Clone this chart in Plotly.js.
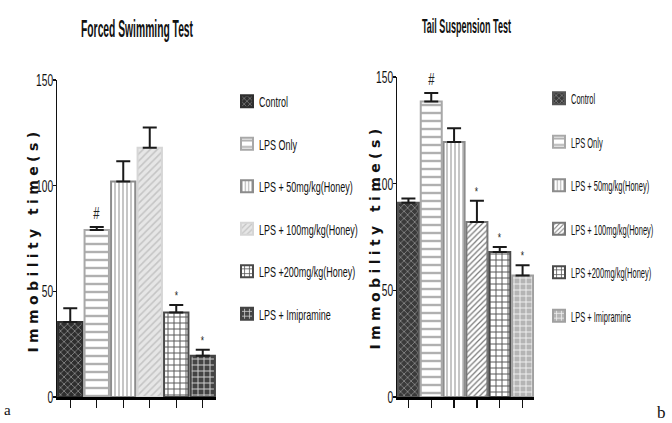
<!DOCTYPE html>
<html>
<head>
<meta charset="utf-8">
<script src="https://cdn.plot.ly/plotly-3.0.1.min.js"></script>
<style>html,body{margin:0;padding:0;background:#fff;}#chart{width:672px;height:423px;}</style>
</head>
<body>
<div id="chart"></div>
<script>
const categories = ["Control", "LPS Only", "LPS + 50mg/kg(Honey)", "LPS + 100mg/kg(Honey)", "LPS +200mg/kg(Honey)", "LPS + Imipramine"];
const fstMeans = [35.5, 79, 102, 118, 40, 19.5];
const fstErr = [6.5, 1.5, 9.5, 9.5, 3.5, 2.8];
const fstMarks = ["", "#", "", "", "*", "*"];
const tstMeans = [91, 138.5, 119.5, 82, 68, 57];
const tstErr = [2, 4, 6.5, 10, 2.3, 4.7];
const tstMarks = ["", "#", "", "*", "*", "*"];
const yTicks = [0, 50, 100, 150];
const panelTitles = ["Forced Swimming Test", "Tail Suspension Test"];
const yTitle = "Immobility time(s)";

const stylesL = [
  {bg: "#2e2e2e", fg: "#8a8a8a", shape: "x", size: 5, line: "#2e2e2e"},
  {bg: "#ffffff", fg: "#b0b0b0", shape: "-", size: 8, line: "#a8a8a8"},
  {bg: "#ffffff", fg: "#a0a0a0", shape: "|", size: 4, line: "#8c8c8c"},
  {bg: "#e6e6e6", fg: "#c4c4c4", shape: "/", size: 5, line: "#d6d6d6"},
  {bg: "#ffffff", fg: "#555555", shape: "+", size: 6, line: "#4a4a4a"},
  {bg: "#444444", fg: "#d0d0d0", shape: "+", size: 6, line: "#444444"}
];
const stylesR = [
  {bg: "#3a3a3a", fg: "#8a8a8a", shape: "x", size: 5, line: "#555555"},
  {bg: "#ffffff", fg: "#b0b0b0", shape: "-", size: 8, line: "#a8a8a8"},
  {bg: "#ffffff", fg: "#a0a0a0", shape: "|", size: 4, line: "#8c8c8c"},
  {bg: "#ffffff", fg: "#777777", shape: "/", size: 4, line: "#777777"},
  {bg: "#ffffff", fg: "#555555", shape: "+", size: 6, line: "#4a4a4a"},
  {bg: "#b4b4b4", fg: "#f0f0f0", shape: "+", size: 6, line: "#a0a0a0"}
];

const FONT = "Liberation Sans, Arial, sans-serif";
const traces = [];
const annotations = [];
function addPanel(means, errs, marks, styles, xa, ya, legendName) {
  means.forEach((m, i) => {
    const s = styles[i];
    traces.push({
      type: "bar", x: [i], y: [m], name: categories[i], width: 0.92,
      xaxis: xa, yaxis: ya, legend: legendName, legendgroup: legendName + i,
      marker: {color: s.bg, line: {color: s.line, width: 2},
        pattern: {shape: s.shape, fgcolor: s.fg, bgcolor: s.bg, size: s.size, solidity: 0.3}},
      error_y: {type: "data", symmetric: false, array: [errs[i]], arrayminus: [0], color: "#1a1a1a", thickness: 2, width: 7},
      hoverinfo: "skip"
    });
    if (marks[i]) {
      annotations.push({xref: xa, yref: ya, x: i, y: m + errs[i], text: marks[i], showarrow: false,
        xanchor: "center", yanchor: "bottom", yshift: marks[i] === "#" ? 3 : 0,
        font: {family: FONT, size: marks[i] === "#" ? 16 : 12, color: "#222"}});
    }
  });
}
addPanel(fstMeans, fstErr, fstMarks, stylesL, "x", "y", "legend");
addPanel(tstMeans, tstErr, tstMarks, stylesR, "x2", "y2", "legend2");

const paperText = (x, y, text, font, extra) => Object.assign({xref: "paper", yref: "paper", x: x / 672, y: 1 - y / 423,
  text: text, showarrow: false, xanchor: "center", yanchor: "middle", font: font}, extra || {});
annotations.push(paperText(137, 29, panelTitles[0], {family: FONT, size: 23, color: "#111", weight: "bold"}));
annotations.push(paperText(466, 26, panelTitles[1], {family: FONT, size: 21, color: "#111", weight: "bold"}));
annotations.push(paperText(33, 240, yTitle, {family: "DejaVu Sans", size: 14, color: "#111", weight: "bold"}, {textangle: -90}));
annotations.push(paperText(375, 237, yTitle, {family: "DejaVu Sans", size: 14, color: "#111", weight: "bold"}, {textangle: -90}));
annotations.push(paperText(7, 410, "a", {family: "Liberation Serif", size: 15, color: "#111"}));
annotations.push(paperText(661, 412, "b", {family: "Liberation Serif", size: 17, color: "#111"}));

const xBase = {range: [-0.5, 5.5], tickvals: [0,1,2,3,4,5], showticklabels: false, ticks: "outside", ticklen: 8,
  tickwidth: 1.2, tickcolor: "#111", showline: true, linecolor: "#000", linewidth: 3, showgrid: false, zeroline: false,
  fixedrange: true, automargin: false};
const yBase = {range: [0, 150], tickvals: yTicks, ticks: "outside", ticklen: 3, tickwidth: 1.2, tickcolor: "#111",
  showline: true, linecolor: "#111", linewidth: 1.5, showgrid: false, zeroline: false, automargin: false,
  ticklabelstandoff: -4, tickfont: {family: FONT, size: 17, color: "#111"}};

const legendBase = {bgcolor: "rgba(0,0,0,0)", font: {family: FONT, size: 15, color: "#111"},
  tracegroupgap: 20, itemwidth: 30, xanchor: "left", yanchor: "top"};

const layout = {
  width: 672, height: 423, margin: {l: 0, r: 0, t: 0, b: 0, autoexpand: false},
  paper_bgcolor: "#fff", plot_bgcolor: "#fff", barmode: "overlay", showlegend: true,
  xaxis: Object.assign({}, xBase, {domain: [57/672, 216/672], anchor: "y"}),
  yaxis: Object.assign({}, yBase, {domain: [1 - 397/423, 1 - 80/423], anchor: "x"}),
  xaxis2: Object.assign({}, xBase, {domain: [397/672, 534/672], anchor: "y2"}),
  yaxis2: Object.assign({}, yBase, {domain: [1 - 397/423, 1 - 77/423], anchor: "x2"}),
  legend: Object.assign({}, legendBase, {x: 227/672, y: 1 - 85/423}),
  legend2: Object.assign({}, legendBase, {x: 539/672, y: 1 - 82/423, tracegroupgap: 21}),
  annotations: annotations
};

function textWidth(el) {
  try { const w = el.getComputedTextLength(); if (w) return w; } catch (e) {}
  try { return el.getBBox().width; } catch (e) { return 0; }
}
function squeeze(el, factor, target) {
  const len = textWidth(el);
  if (!len) return;
  el.setAttribute("lengthAdjust", "spacingAndGlyphs");
  el.setAttribute("textLength", target ? target : len * factor);
}
function finish(gd) {
  gd.querySelectorAll("text").forEach(t => {
    try {
      if (t.getAttribute("data-done")) return;
      const s = t.textContent;
      const inAnn = !!t.closest(".annotation");
      if (!inAnn && categories.indexOf(s) >= 0) {
        t.setAttribute("data-done", "1");
        const right = t.getBoundingClientRect().left > 400;
        squeeze(t, right ? 0.5 : 0.6);
        const x = parseFloat(t.getAttribute("x") || "0");
        t.setAttribute("x", x - 8);
      } else if (t.closest(".ytick, .y2tick")) {
        t.setAttribute("data-done", "1");
        squeeze(t, 0.6);
      } else if (inAnn) {
        t.setAttribute("data-done", "1");
        if (s === panelTitles[0]) squeeze(t, 0, 112);
        else if (s === panelTitles[1]) squeeze(t, 0, 89);
        else if (s === yTitle) t.style.letterSpacing = "4.4px";
        else if (s === "#" || s === "*") squeeze(t, 0.7);
      }
    } catch (e) {}
  });
}
Plotly.newPlot("chart", traces, layout, {displayModeBar: false, staticPlot: true}).then(gd => {
  finish(gd);
  setTimeout(() => finish(gd), 50);
  setTimeout(() => finish(gd), 300);
});
</script>
</body>
</html>
